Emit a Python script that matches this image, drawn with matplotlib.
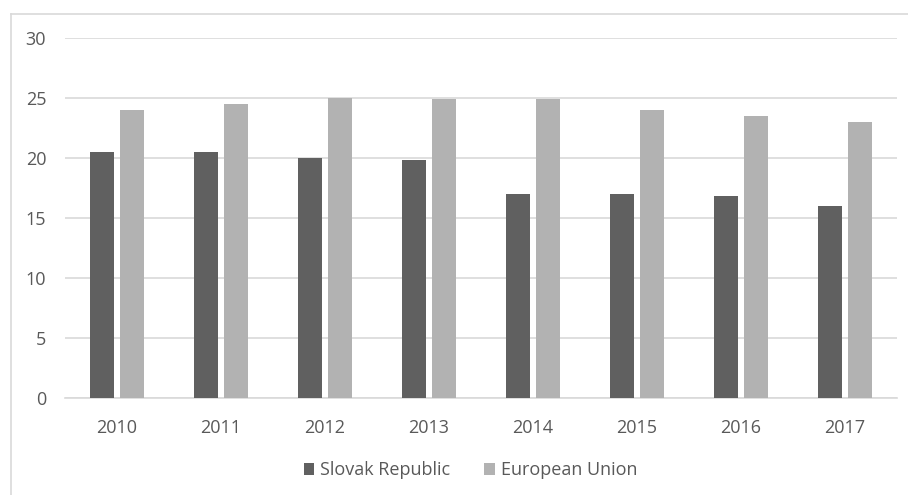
import matplotlib.pyplot as plt
from matplotlib.lines import Line2D
import numpy as np

years = ["2010", "2011", "2012", "2013", "2014", "2015", "2016", "2017"]
slovak = [20.5, 20.5, 20.0, 19.8, 17.0, 17.0, 16.8, 16.0]
eu = [24.0, 24.5, 25.0, 24.9, 24.9, 24.0, 23.5, 23.0]

plt.rcParams['font.family'] = ['Open Sans', 'DejaVu Sans']
text_col = "#595959"
grid_col = "#d9d9d9"

fig = plt.figure(figsize=(9.08, 4.95), dpi=100)
ax = fig.add_axes([65 / 908, 1 - 398 / 495, 832 / 908, 360 / 495])

x = np.arange(len(years))
w = 0.226
off = 0.142
ax.bar(x - off, slovak, w, color="#606060", label="Slovak Republic", zorder=3)
ax.bar(x + off, eu, w, color="#b2b2b2", label="European Union", zorder=3)

ax.set_xlim(-0.5, len(years) - 0.5)
ax.set_ylim(0, 30)
ax.set_yticks(range(0, 31, 5))
ax.set_xticks(x)
ax.set_xticklabels(years)
ax.yaxis.grid(True, color=grid_col, linewidth=1.2, zorder=0)
for s in ["top", "right", "left"]:
    ax.spines[s].set_visible(False)
ax.spines["bottom"].set_color(grid_col)
ax.spines["bottom"].set_linewidth(1.2)
ax.tick_params(length=0, colors=text_col, labelsize=13)
ax.tick_params(axis="y", pad=13.5)
ax.tick_params(axis="x", pad=15)

fig.legend(loc="center", bbox_to_anchor=(0.518, 0.05), ncol=2, frameon=False,
           handlelength=0.6, handleheight=0.6, handletextpad=0.3, columnspacing=1.9,
           fontsize=13, labelcolor=text_col)

# outer chart border (only top and left visible)
fig.add_artist(Line2D([10.5 / 908, 10.5 / 908], [0, 1 - 13.5 / 495], color=grid_col, lw=1.2))
fig.add_artist(Line2D([10.5 / 908, 1], [1 - 13.5 / 495, 1 - 13.5 / 495], color=grid_col, lw=1.2))

fig.savefig("out.png", dpi=100)
